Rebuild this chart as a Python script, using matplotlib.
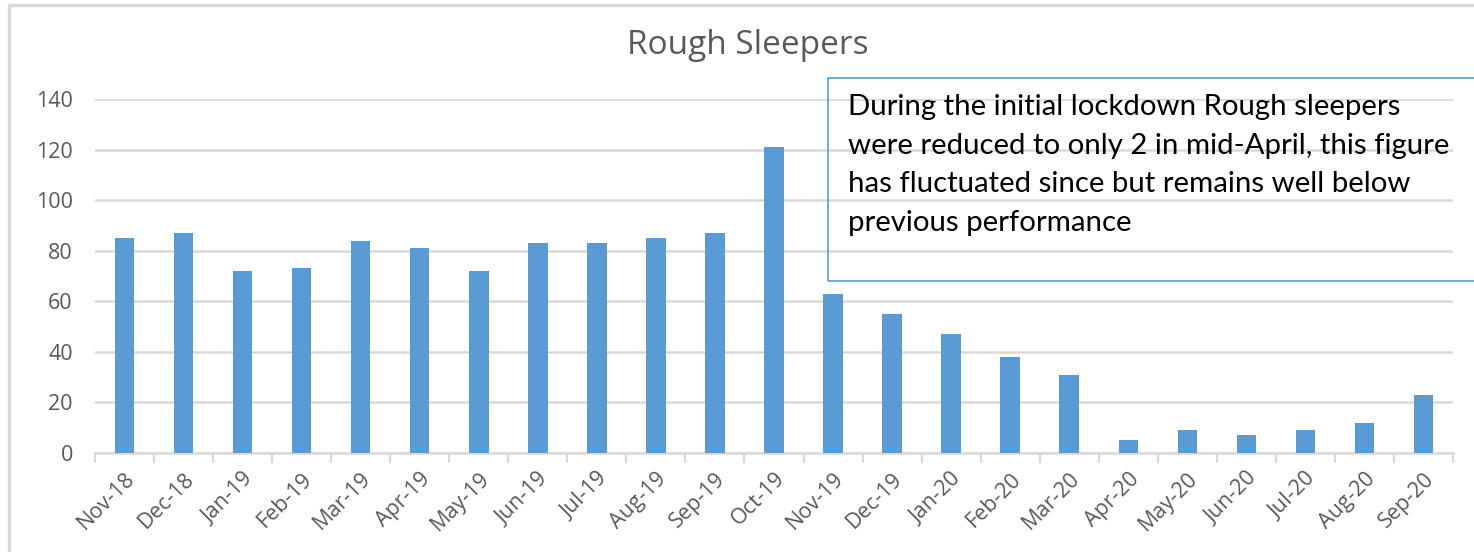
import numpy as np
import matplotlib.pyplot as plt
from matplotlib.patches import Rectangle

months = ['Nov-18', 'Dec-18', 'Jan-19', 'Feb-19', 'Mar-19', 'Apr-19', 'May-19',
          'Jun-19', 'Jul-19', 'Aug-19', 'Sep-19', 'Oct-19', 'Nov-19', 'Dec-19',
          'Jan-20', 'Feb-20', 'Mar-20', 'Apr-20', 'May-20', 'Jun-20', 'Jul-20',
          'Aug-20', 'Sep-20']
sleepers = [85, 87, 72, 73, 84, 81, 72, 83, 83, 85, 87, 121, 63, 55, 47, 38,
            31, 5, 9, 7, 9, 12, 23]
yticks = [0, 20, 40, 60, 80, 100, 120, 140]

note = ('During the initial lockdown Rough sleepers\n'
        'were reduced to only 2 in mid-April, this figure\n'
        'has fluctuated since but remains well below\n'
        'previous performance')

plt.rcParams['font.family'] = ['Open Sans', 'DejaVu Sans']
grey = '#595959'

fig = plt.figure(figsize=(14.74, 5.52), dpi=100)
ax = fig.add_axes([95 / 1474, 1 - 453 / 552, (1453 - 95) / 1474, (453 - 99) / 552])

xs = np.arange(len(months))
ax.bar(xs, sleepers, width=0.33, color='#5b9bd5', zorder=3)

ax.set_xlim(-0.5, len(months) - 0.5)
ax.set_ylim(0, 140)
ax.set_yticks(yticks)
ax.set_yticklabels([str(v) for v in yticks], fontsize=15.5, color=grey)
ax.set_xticks(xs)
ax.set_xticklabels(months, rotation=45, ha='right', rotation_mode='anchor',
                   fontsize=15.5, color=grey)
ax.set_xticks(np.arange(-0.5, len(months), 1), minor=True)
ax.tick_params(axis='x', which='major', length=0, pad=11)
ax.tick_params(axis='x', which='minor', length=7, width=1.5, color='#d9d9d9')
ax.tick_params(axis='y', length=0, pad=16)
ax.grid(axis='y', color='#d9d9d9', lw=1.8, zorder=0)
for s in ['top', 'right', 'left']:
    ax.spines[s].set_visible(False)
ax.spines['bottom'].set_color('#d9d9d9')
ax.spines['bottom'].set_linewidth(1.8)

fig.text(748 / 1474, 1 - 46 / 552, 'Rough Sleepers', ha='center', va='center',
         fontsize=24, color=grey)

# outer chart frame
fig.patches.append(Rectangle((9 / 1474, -0.1), 1.2, 1 - 5 / 552 + 0.1,
                             transform=fig.transFigure, fill=False,
                             edgecolor='#d9d9d9', lw=2.5))
# note box (transparent, gridlines show through)
fig.patches.append(Rectangle((828 / 1474, 1 - 281 / 552), 0.5, (281 - 78) / 552,
                             transform=fig.transFigure, fill=False,
                             edgecolor='#5b9bd5', lw=1.2, zorder=5))
fig.text(848 / 1474, 1 - 94 / 552, note, ha='left', va='top', fontsize=21.2,
         color='black', linespacing=1.6, zorder=6, family=['Lato', 'DejaVu Sans'])

fig.savefig('out.png', dpi=100)
